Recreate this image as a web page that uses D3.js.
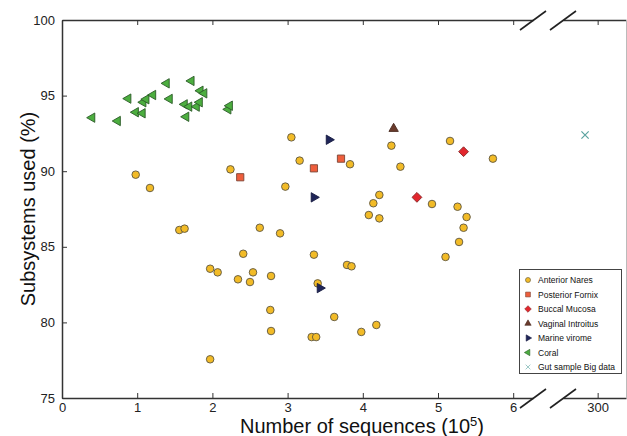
<!DOCTYPE html>
<html>
<head>
<meta charset="utf-8">
<script src="https://cdn.jsdelivr.net/npm/d3@7"></script>
<style>
  body { margin: 0; background: #fff; }
  svg { font-family: "Liberation Sans", Arial, sans-serif; }
</style>
</head>
<body>
<div id="chart"></div>
<script>
// values, x in units of 10^5 sequences, y in %
var naresX = [0.98, 1.17, 1.56, 1.63, 2.24, 2.63, 2.90, 2.41, 1.97, 2.07, 2.34, 2.50, 2.54, 2.78, 2.77, 2.78, 1.97,
              3.05, 4.38, 5.16, 5.73, 3.16, 3.83, 4.50, 2.97, 4.22, 4.14, 4.92, 4.08, 4.22, 5.26, 5.38, 5.34, 5.28,
              3.35, 3.79, 3.85, 3.40, 3.62, 3.32, 3.38, 3.98, 4.18, 5.10];
var naresY = [89.77, 88.89, 86.11, 86.20, 90.12, 86.26, 85.89, 84.54, 83.55, 83.31, 82.85, 82.67, 83.31, 83.07, 80.82, 79.43, 77.56,
              92.24, 91.69, 92.00, 90.83, 90.70, 90.46, 90.30, 88.98, 88.43, 87.88, 87.83, 87.10, 86.88, 87.65, 86.97, 86.26, 85.32,
              84.48, 83.80, 83.71, 82.58, 80.36, 79.03, 79.03, 79.37, 79.83, 84.33];
var fornixX = [2.37, 3.35, 3.71];
var fornixY = [89.60, 90.19, 90.83];
var buccalX = [5.34, 4.72];
var buccalY = [91.29, 88.27];
var vaginalX = [4.41];
var vaginalY = [92.81];
var marineX = [3.55, 3.35, 3.43];
var marineY = [92.08, 88.27, 82.27];
var coralX = [0.40, 0.74, 0.88, 0.98, 1.07, 1.08, 1.12, 1.21, 1.39, 1.43, 1.63, 1.65, 1.69, 1.72, 1.79, 1.83, 1.84, 1.89, 2.21, 2.23];
var coralY = [93.54, 93.32, 94.80, 93.90, 93.83, 94.56, 94.76, 95.04, 95.81, 94.78, 94.42, 93.60, 94.27, 95.97, 94.27, 94.56, 95.32, 95.15, 94.09, 94.33];
var gutX = [298];
var gutY = [92.39];

var xTicksLeft = [0, 1, 2, 3, 4, 5, 6];
var xTicksRight = [300];
var yTicks = [75, 80, 85, 90, 95, 100];
var seriesNames = ['Anterior Nares', 'Posterior Fornix', 'Buccal Mucosa', 'Vaginal Introitus', 'Marine virome', 'Coral', 'Gut sample Big data'];

var width = 627,
    height = 436,
    plotTop = 20,
    plotBottom = 398,
    leftStart = 62,
    leftEnd = 533,
    rightStart = 563,
    rightEnd = 626;

var svg = d3.select('#chart')
  .append('svg')
  .attr('width', width)
  .attr('height', height);

var x = d3.scaleLinear().domain([0, (leftEnd - leftStart) / 75.2]).range([leftStart, leftEnd]);
var x2 = d3.scaleLinear().domain([294.5, 304.5]).range([rightStart, rightEnd]);
var y = d3.scaleLinear().domain([75, 100]).range([plotBottom, plotTop]);

var axisColor = '#333';
var intFmt = d3.format('d');

function styleAxis(g) {
  g.selectAll('path.domain').attr('stroke', axisColor).attr('stroke-width', 1.5);
  g.selectAll('.tick line').attr('stroke', axisColor).attr('stroke-width', 1);
  g.selectAll('.tick text').attr('fill', '#222').attr('font-size', '13px')
    .attr('font-family', '"Liberation Sans", Arial, sans-serif');
}

// left part
svg.append('g')
  .attr('transform', 'translate(0,' + plotBottom + ')')
  .call(d3.axisBottom(x).tickValues(xTicksLeft).tickFormat(intFmt).tickSize(-5).tickSizeOuter(0).tickPadding(5))
  .call(styleAxis);
svg.append('g')
  .attr('transform', 'translate(0,' + plotTop + ')')
  .call(d3.axisTop(x).tickValues(xTicksLeft).tickSize(-5).tickSizeOuter(0).tickFormat(''))
  .call(styleAxis);
svg.append('g')
  .attr('transform', 'translate(' + leftStart + ',0)')
  .call(d3.axisLeft(y).tickValues(yTicks).tickFormat(intFmt).tickSize(-5).tickSizeOuter(0).tickPadding(7))
  .call(styleAxis);

// right part
svg.append('g')
  .attr('transform', 'translate(0,' + plotBottom + ')')
  .call(d3.axisBottom(x2).tickValues(xTicksRight).tickFormat(intFmt).tickSize(-5).tickSizeOuter(0).tickPadding(5))
  .call(styleAxis);
svg.append('g')
  .attr('transform', 'translate(0,' + plotTop + ')')
  .call(d3.axisTop(x2).tickValues(xTicksRight).tickSize(-5).tickSizeOuter(0).tickFormat(''))
  .call(styleAxis);
svg.append('line')
  .attr('x1', rightEnd + 0.5).attr('x2', rightEnd + 0.5)
  .attr('y1', plotTop).attr('y2', plotBottom)
  .attr('stroke', '#bbb').attr('stroke-width', 1);

// break marks
[leftEnd, rightStart].forEach(function(bx) {
  [plotTop, plotBottom].forEach(function(by) {
    svg.append('line')
      .attr('x1', bx - 13).attr('y1', by + 10)
      .attr('x2', bx + 13).attr('y2', by - 9)
      .attr('stroke', '#222').attr('stroke-width', 1.6);
  });
});

// axis titles
svg.append('text')
  .attr('x', 362)
  .attr('y', 433)
  .attr('text-anchor', 'middle')
  .attr('font-size', '20px')
  .attr('fill', '#111')
  .html('Number of sequences (10<tspan baseline-shift="super" font-size="13px">5</tspan>)');

svg.append('text')
  .attr('transform', 'translate(35,209) rotate(-90)')
  .attr('text-anchor', 'middle')
  .attr('font-size', '20px')
  .attr('fill', '#111')
  .text('Subsystems used (%)');

// marker styles
var styles = [
  { type: d3.symbolCircle, size: 45, rot: 0, fill: '#f2bb27', stroke: '#5e5640' },
  { type: d3.symbolSquare, size: 52, rot: 0, fill: '#ee5e3c', stroke: '#7a4536' },
  { type: d3.symbolSquare, size: 48, rot: 45, fill: '#e2262d', stroke: '#8a2a2a' },
  { type: d3.symbolTriangle, size: 38, rot: 0, fill: '#6a3b2c', stroke: '#4a2a20' },
  { type: d3.symbolTriangle, size: 38, rot: 90, fill: '#1f2558', stroke: '#151a40' },
  { type: d3.symbolTriangle, size: 38, rot: -90, fill: '#4cae3f', stroke: '#2b5a28' },
  { type: d3.symbolX, size: 36, rot: 0, fill: 'none', stroke: '#5ba3a0' }
];

var seriesX = [naresX, fornixX, buccalX, vaginalX, marineX, coralX, gutX];
var seriesY = [naresY, fornixY, buccalY, vaginalY, marineY, coralY, gutY];

seriesX.forEach(function(xs, s) {
  var st = styles[s];
  var sx = s === 6 ? x2 : x;
  var pts = xs.map(function(v, i) { return [v, seriesY[s][i]]; });
  svg.append('g').selectAll('path')
    .data(pts)
    .enter()
    .append('path')
    .attr('d', d3.symbol().type(st.type).size(st.size))
    .attr('transform', function(d) {
      return 'translate(' + sx(d[0]) + ',' + y(d[1]) + ') rotate(' + st.rot + ')';
    })
    .attr('fill', st.fill)
    .attr('stroke', st.stroke)
    .attr('stroke-width', s === 6 ? 1.2 : 0.9);
});

// legend
var legend = svg.append('g');
legend.append('rect')
  .attr('x', 519.5).attr('y', 269.5)
  .attr('width', 102).attr('height', 104)
  .attr('fill', '#fff')
  .attr('stroke', '#444')
  .attr('stroke-width', 1);

seriesNames.forEach(function(name, i) {
  var st = styles[i];
  var ly = 280 + i * 14.5;
  legend.append('path')
    .attr('d', d3.symbol().type(st.type).size(st.size * 0.45))
    .attr('transform', 'translate(528,' + ly + ') rotate(' + st.rot + ')')
    .attr('fill', st.fill)
    .attr('stroke', st.stroke)
    .attr('stroke-width', 0.6);
  legend.append('text')
    .attr('x', 538)
    .attr('y', ly + 3)
    .attr('font-size', '8.5px')
    .attr('fill', '#111')
    .text(name);
});
</script>
</body>
</html>
